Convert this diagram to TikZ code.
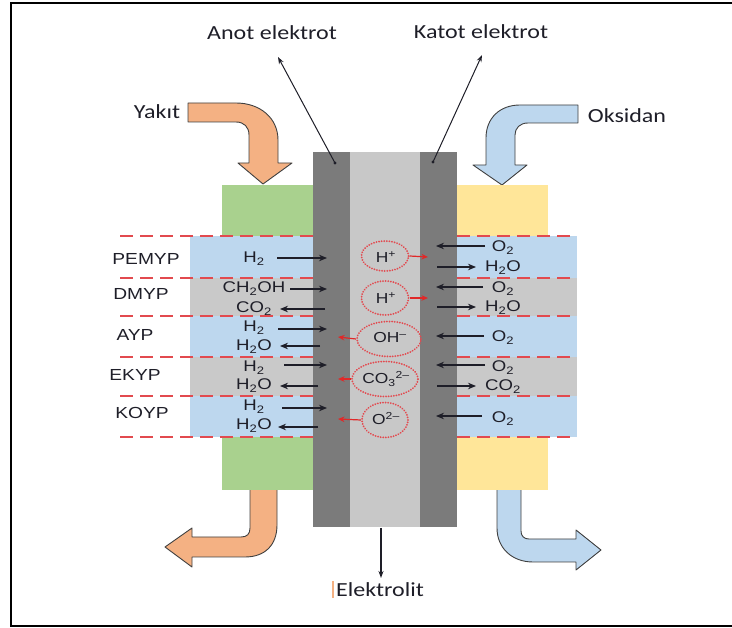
\documentclass[tikz,border=0pt]{standalone}
\usepackage{fontspec}
\newfontfamily\arl[FakeStretch=1.2]{Liberation Sans}
\newfontfamily\clb[FakeStretch=1.2]{Carlito}
\usetikzlibrary{shapes.geometric,arrows.meta}
\definecolor{orng}{HTML}{F4B183}
\definecolor{lblue}{HTML}{BDD7EE}
\definecolor{bgray}{HTML}{C9C9C9}
\definecolor{grn}{HTML}{A9D18E}
\definecolor{ylw}{HTML}{FFE699}
\definecolor{dgray}{HTML}{7B7B7B}
\definecolor{egray}{HTML}{C8C8C8}
\definecolor{rdash}{HTML}{E24A4F}
\definecolor{rarrc}{HTML}{E02828}
\definecolor{txt}{HTML}{1E1E28}
\definecolor{outl}{HTML}{404040}
\begin{document}
\begin{tikzpicture}[x=1pt,y=-1pt,
  blk/.style={draw=outl,line width=0.9pt,line join=round},
  reddash/.style={draw=rdash,line width=1.4pt,dash pattern=on 13pt off 7pt},
  arr/.style={draw=txt,line width=1.2pt,-{Stealth[length=8pt,width=6.5pt]}},
  rarr/.style={draw=rarrc,line width=1.2pt,-{Stealth[length=6.5pt,width=5.5pt]}},
  ptr/.style={draw=txt,line width=1pt,-{Stealth[length=7pt,width=5pt]}},
  chem/.style={font=\arl\fontsize{15.5}{15.5}\selectfont,anchor=base,text=txt,inner sep=0pt},
  ionlab/.style={font=\arl\fontsize{14.5}{14.5}\selectfont,anchor=base,text=txt,inner sep=0pt},
  rowlab/.style={font=\arl\fontsize{16}{16}\selectfont,anchor=base,text=txt,inner sep=0pt},
  title/.style={font=\clb\fontsize{20}{20}\selectfont,anchor=base,text=txt,inner sep=0pt},
  ionell/.style={ellipse,draw=rdash,line width=2pt,dash pattern=on 0.01pt off 2.6pt,line cap=round,inner sep=0pt}]
\useasboundingbox (0,0) rectangle (732,628);
% frame
\draw[line width=2pt] (732,3) -- (11,3) -- (11,626) -- (732,626);

% exhaust arrows
\path[blk,fill=orng] (277,490) -- (277,525) .. controls (277,545) and (265,557) .. (245,557) -- (192,557) -- (192,567) -- (165,547) -- (192,528) -- (192,537) -- (241,537) .. controls (247,537) and (250,534) .. (250,528) -- (250,490);
\path[blk,fill=lblue] (521,490) -- (521,531) .. controls (521,536) and (524,539) .. (529,539) -- (576,539) -- (576,530) -- (601,550) -- (576,570) -- (576,562) -- (533,562) .. controls (512,562) and (497,548) .. (497,528) -- (497,490);

% inlet arrows
\draw[blk,fill=orng] (188,103) -- (236,103) .. controls (260,103) and (278,118) .. (278,140) -- (278,163) -- (292,163) -- (263,184) -- (238,163) -- (249,163) -- (249,135) .. controls (249,127) and (244,122) .. (236,122) -- (188,122) -- cycle;
\draw[blk,fill=lblue] (578,105) -- (520,105) .. controls (500,105) and (486,118) .. (486,138) -- (486,165) -- (473,165) -- (502,185) -- (527,165) -- (515,165) -- (515,135) .. controls (515,128) and (520,123) .. (528,123) -- (578,123) -- cycle;

% side blocks
\fill[grn] (222,185) rectangle (313,490);
\fill[ylw] (457,185) rectangle (548,490);
% bands
\fill[lblue] (190,236) rectangle (313,278);
\fill[bgray] (190,278) rectangle (313,316);
\fill[lblue] (190,316) rectangle (313,357);
\fill[bgray] (190,357) rectangle (313,396);
\fill[lblue] (190,396) rectangle (313,437);
\fill[lblue] (457,236) rectangle (577,278);
\fill[bgray] (457,278) rectangle (577,316);
\fill[lblue] (457,316) rectangle (577,357);
\fill[bgray] (457,357) rectangle (577,396);
\fill[lblue] (457,396) rectangle (577,437);
% electrodes and electrolyte
\fill[dgray] (313,152) rectangle (350,527);
\fill[egray] (350,152) rectangle (420,527);
\fill[dgray] (420,152) rectangle (457,527);
% dashed lines
\foreach \yy in {236,278,316,357,396,437}{
  \draw[reddash] (120,\yy) -- (313,\yy);
  \draw[reddash] (457,\yy) -- (577,\yy);
}

% titles
\node[title] (anot) at (272,39.5) {Anot elektrot};
\node[title] (katot) at (481,38.5) {Katot elektrot};
\node[title] (yakit) at (157,118.5) {Yakıt};
\node[title] (oksidan) at (627,122.5) {Oksidan};
\node[title] (elektrolit) at (380,596.5) {Elektrolit};
\draw[orng,line width=1.2pt] (333,581) -- (333,598);

\coordinate (anotdot) at (335,163);
\coordinate (katotdot) at (433,162);
\coordinate (anottip) at (278,57);
\coordinate (katottip) at (482,55);
\fill[txt] (anotdot) circle (1.6);
\fill[txt] (katotdot) circle (1.6);
\draw[ptr] (anotdot) -- (anottip);
\draw[ptr] (katotdot) -- (katottip);
\coordinate (elbot) at (381,528);
\coordinate (eltip) at (381,578);
\draw[ptr,line width=1.4pt] (elbot) -- (eltip);

% row labels
\node[rowlab] (pemyp) at (146,264.5) {PEMYP};
\node[rowlab] (dmyp) at (141,300) {DMYP};
\node[rowlab] (ayp) at (135,341) {AYP};
\node[rowlab] (ekyp) at (135,381) {EKYP};
\node[rowlab] (koyp) at (142,419) {KOYP};

% left side species
\node[chem] (l1) at (254,263) {H\textsubscript{2}};
\draw[arr] (277,258) -- (327,258);
\node[chem] (l2) at (254,293) {CH\textsubscript{2}OH};
\draw[arr] (290,289) -- (327,289);
\node[chem] (l3) at (254,313) {CO\textsubscript{2}};
\draw[arr] (325,309) -- (280,309);
\node[chem] (l4) at (254,332) {H\textsubscript{2}};
\draw[arr] (278,329) -- (327,329);
\node[chem] (l5) at (254,351) {H\textsubscript{2}O};
\draw[arr] (320,346) -- (280,346);
\node[chem] (l6) at (254,372) {H\textsubscript{2}};
\draw[arr] (284,365) -- (327,365);
\node[chem] (l7) at (254,390) {H\textsubscript{2}O};
\draw[arr] (318,386) -- (280,386);
\node[chem] (l8) at (254,411) {H\textsubscript{2}};
\draw[arr] (282,408) -- (327,408);
\node[chem] (l9) at (254,430) {H\textsubscript{2}O};
\draw[arr] (318,427) -- (278,427);

% right side species
\node[chem] (r1) at (503,252) {O\textsubscript{2}};
\draw[arr] (485,246) -- (436,246);
\node[chem] (r2) at (503,272) {H\textsubscript{2}O};
\draw[arr] (437,267) -- (476,267);
\node[chem] (r3) at (503,293) {O\textsubscript{2}};
\draw[arr] (483,287) -- (436,287);
\node[chem] (r4) at (503,312) {H\textsubscript{2}O};
\draw[arr] (437,307) -- (476,307);
\node[chem] (r5) at (503,342) {O\textsubscript{2}};
\draw[arr] (484,336) -- (436,336);
\node[chem] (r6) at (503,372) {O\textsubscript{2}};
\draw[arr] (485,365) -- (436,365);
\node[chem] (r7) at (503,391) {CO\textsubscript{2}};
\draw[arr] (437,386) -- (476,386);
\node[chem] (r8) at (503,423) {O\textsubscript{2}};
\draw[arr] (482,416) -- (436,416);

% ions
\node[ionell,minimum width=47pt,minimum height=30pt] (e1) at (385,256) {};
\node[ionlab] (i1) at (386,263) {H\textsuperscript{+}};
\node[ionell,minimum width=47pt,minimum height=34pt] (e2) at (385,298) {};
\node[ionlab] (i2) at (386,304) {H\textsuperscript{+}};
\node[ionell,minimum width=64pt,minimum height=35pt] (e3) at (389,339) {};
\node[ionlab] (i3) at (390,343) {OH\textsuperscript{–}};
\node[ionell,minimum width=66pt,minimum height=35pt] (e4) at (385,379) {};
\node[ionlab] (i4) at (386,384) {CO\textsubscript{3}\textsuperscript{2–}};
\node[ionell,minimum width=46pt,minimum height=35pt] (e5) at (385,420) {};
\node[ionlab] (i5) at (386,425) {O\textsuperscript{2–}};
\coordinate (t1) at (428,257);
\coordinate (t2) at (428,298);
\coordinate (t3) at (338,337);
\coordinate (t4) at (338,379);
\coordinate (t5) at (338,419);
\draw[rarr] (e1.east) -- (t1);
\draw[rarr] (e2.east) -- (t2);
\draw[rarr] (e3.west) -- (t3);
\draw[rarr] (e4.west) -- (t4);
\draw[rarr] (e5.west) -- (t5);
\end{tikzpicture}
\end{document}
